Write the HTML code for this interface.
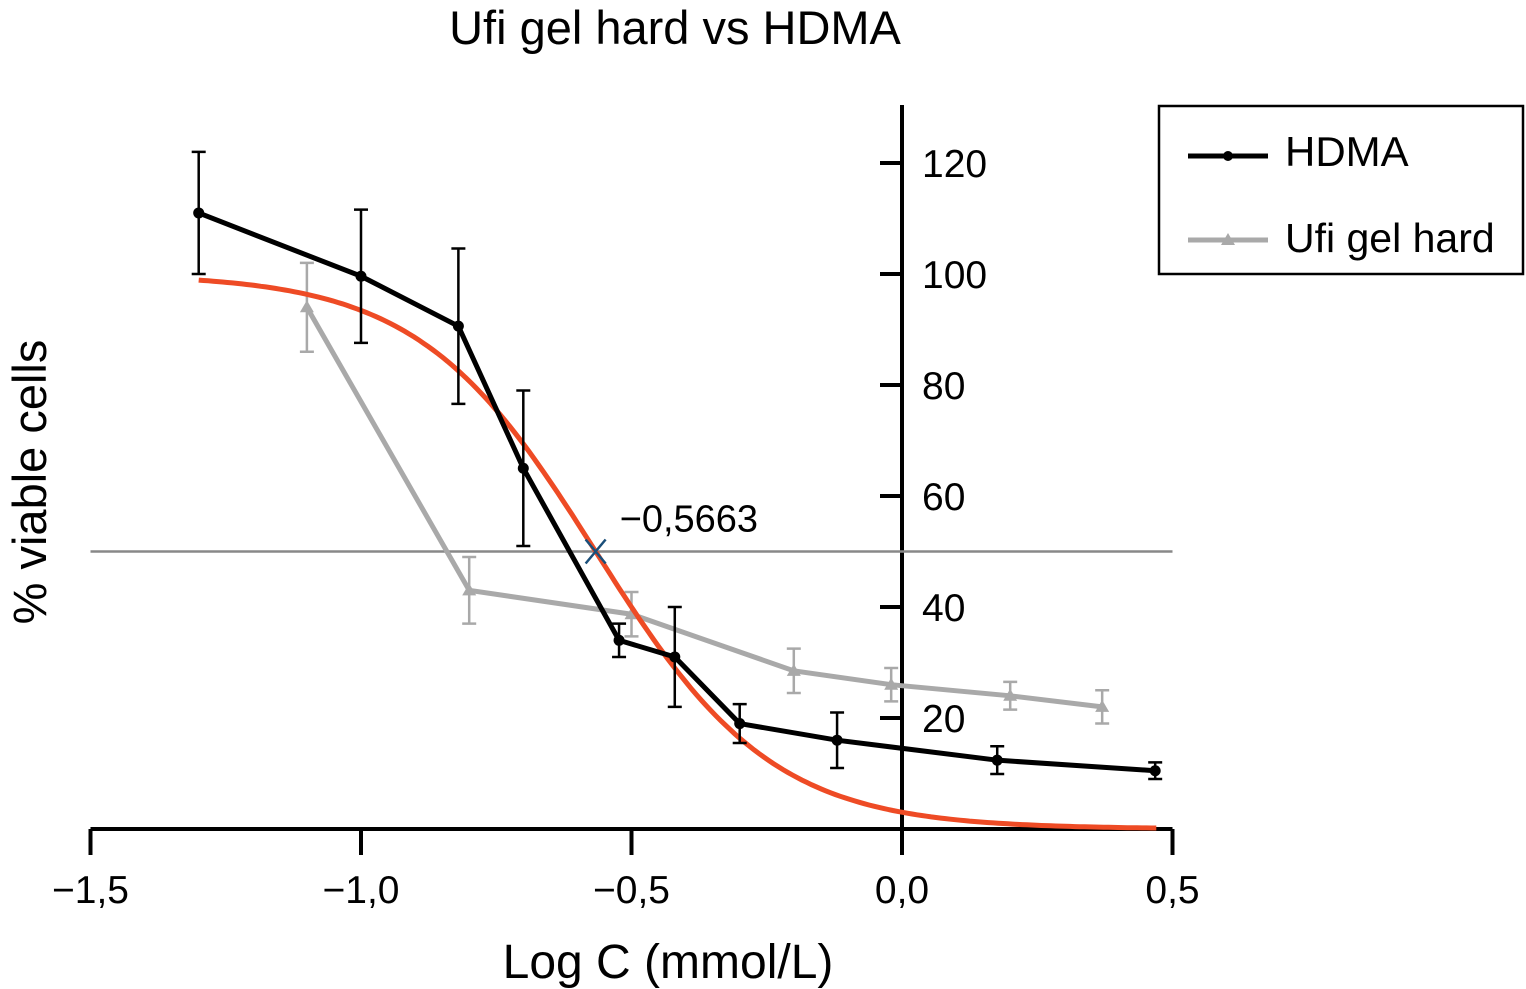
<!DOCTYPE html>
<html><head><meta charset="utf-8"><style>
body{margin:0;background:#fff;}
svg{display:block;font-family:"Liberation Sans",Arial,sans-serif;}
</style></head><body>
<svg id="chart" width="1526" height="989" viewBox="0 0 1526 989">
<text x="675" y="44" font-size="47" text-anchor="middle" fill="#000">Ufi gel hard vs HDMA</text>
<text transform="translate(46,482) rotate(-90)" font-size="47" text-anchor="middle">% viable cells</text>
<text x="668" y="978" font-size="48" text-anchor="middle">Log C (mmol/L)</text>
<g id="axes"></g>
<g id="marks"></g>
<g>
<rect x="1159" y="106" width="364" height="168" fill="#fff" stroke="#000" stroke-width="2.5"/>
<line x1="1188" y1="156" x2="1268" y2="156" stroke="#000" stroke-width="5"/>
<circle cx="1228" cy="156" r="5" fill="#000"/>
<text x="1285" y="166" font-size="42">HDMA</text>
<line x1="1188" y1="240" x2="1268" y2="240" stroke="#a9a9a9" stroke-width="5"/>
<polygon points="1228,233 1235,245 1221,245" fill="#a9a9a9"/>
<text x="1285" y="252" font-size="41">Ufi gel hard</text>
</g>
</svg>
<script>
const xTicks=[-1.5,-1.0,-0.5,0.0,0.5];
const xTickLabels=["\u22121,5","\u22121,0","\u22120,5","0,0","0,5"];
const yTicks=[20,40,60,80,100,120];
const hdmaX=[-1.3,-1.0,-0.82,-0.7,-0.523,-0.42,-0.3,-0.12,0.176,0.468];
const hdmaY=[111,99.6,90.6,65,34,31,19,16,12.4,10.5];
const hdmaErr=[11,12,14,14,3,9,3.5,5,2.5,1.5];
const ufiX=[-1.1,-0.8,-0.5,-0.2,-0.02,0.2,0.37];
const ufiY=[94,43,38.7,28.5,26,24,22];
const ufiErr=[8,6,4,4,3,2.5,3];
const fitParams=[100,0,-0.5663,2.66]; // top,bottom,logIC50,hill
const fitRange=[-1.3,0.47];
const refY=[50];
const ic50Label=["\u22120,5663"];

const NS="http://www.w3.org/2000/svg";
const X=v=>902+v*541, Y=v=>829-v*5.55;
function mk(p,tag,a){const e=document.createElementNS(NS,tag);for(const k in a)e.setAttribute(k,a[k]);p.appendChild(e);return e;}
const axesG=document.getElementById('axes'), marksG=document.getElementById('marks');

let e=mk(axesG,'line',{x1:X(-1.5),y1:Y(0),x2:X(0.5),y2:Y(0),stroke:'#000','stroke-width':4});


e=mk(axesG,'line',{x1:X(0),y1:105,x2:X(0),y2:Y(0)+2,stroke:'#000','stroke-width':4});


xTicks.forEach((t,i)=>{
 let l=mk(axesG,'line',{x1:X(t),y1:Y(0),x2:X(t),y2:Y(0)+26,stroke:'#000','stroke-width':4});
 
 
 let tx=mk(axesG,'text',{x:X(t),y:903,'font-size':39,'text-anchor':'middle'});tx.textContent=xTickLabels[i];
 
 
});
yTicks.forEach(t=>{
 let l=mk(axesG,'line',{x1:X(0)-22,y1:Y(t),x2:X(0),y2:Y(t),stroke:'#000','stroke-width':4});
 
 
 let tx=mk(axesG,'text',{x:922,y:Y(t)+14,'font-size':39});tx.textContent=t;
 
 
});
e=mk(marksG,'line',{x1:X(-1.5),y1:Y(refY[0]),x2:X(0.5),y2:Y(refY[0]),stroke:'#888','stroke-width':2.5});



function series(xs,ys,errs,color,name,tri){
 const g=mk(marksG,'g',{});
 
 
 xs.forEach((x,i)=>{
  const cx=X(x),t=Y(ys[i]+errs[i]),b=Y(ys[i]-errs[i]);
  let p=mk(g,'path',{d:`M${cx},${t}V${b}M${cx-7},${t}H${cx+7}M${cx-7},${b}H${cx+7}`,stroke:color,'stroke-width':2.5,fill:'none'});
  
  
 });
 let pl=mk(g,'polyline',{points:xs.map((x,i)=>X(x)+','+Y(ys[i])).join(' '),stroke:color,'stroke-width':5,fill:'none'});
 
 
 xs.forEach((x,i)=>{
  const cx=X(x),cy=Y(ys[i]);
  let m=tri?mk(g,'polygon',{points:`${cx},${cy-7} ${cx+7},${cy+5} ${cx-7},${cy+5}`,fill:color}):mk(g,'circle',{cx,cy,r:5.5,fill:color});
  
  
 });
}
series(ufiX,ufiY,ufiErr,'#a9a9a9','ufi-gel-hard',true);

const fTop=fitParams[0],fBot=fitParams[1],fIc=fitParams[2],fHill=fitParams[3];
let d='';
for(let i=0;i<=200;i++){const x=fitRange[0]+(fitRange[1]-fitRange[0])*i/200;const y=fBot+(fTop-fBot)/(1+Math.pow(10,(x-fIc)*fHill));d+=(i?'L':'M')+X(x).toFixed(1)+','+Y(y).toFixed(1);}
e=mk(marksG,'path',{d:d,stroke:'#ee4b25','stroke-width':5,fill:'none'});



series(hdmaX,hdmaY,hdmaErr,'#000','hdma',false);

const ix=X(fIc),iy=Y(refY[0]);
e=mk(marksG,'path',{d:`M${ix-10},${iy-12}L${ix+10},${iy+12}M${ix+10},${iy-12}L${ix-10},${iy+12}`,stroke:'#1a4f7a','stroke-width':2.5});


e=mk(marksG,'text',{x:ix+24,y:iy-20,'font-size':38});e.textContent=ic50Label[0];


</script>
</body></html>
